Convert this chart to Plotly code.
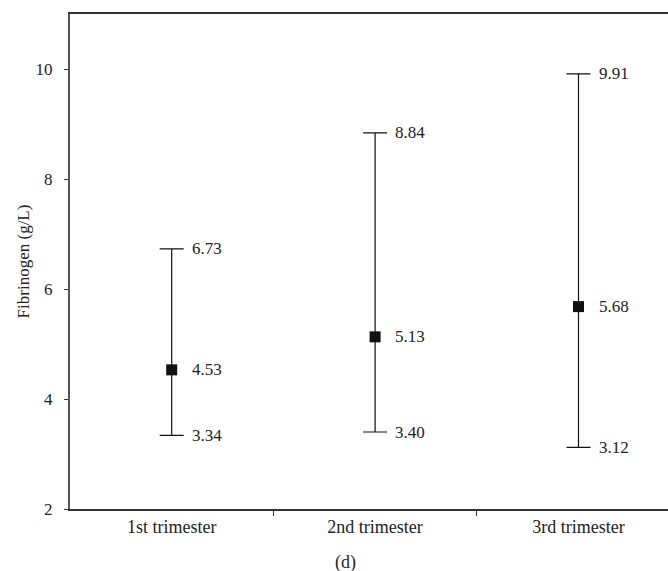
import plotly.graph_objects as go

categories = ["1st trimester", "2nd trimester", "3rd trimester"]
means = [4.53, 5.13, 5.68]
upper = [6.73, 8.84, 9.91]
lower = [3.34, 3.40, 3.12]
y_ticks = [2, 4, 6, 8, 10]
sep_ticks = [0.5, 1.5]

xpos = list(range(len(categories)))
font_family = "Liberation Serif, Times New Roman, serif"
txt_color = "#222222"

fig = go.Figure()
fig.add_trace(go.Scatter(
    x=xpos, y=means, mode="markers",
    marker=dict(symbol="square", size=11, color="#111111"),
    error_y=dict(type="data", symmetric=False,
                 array=[u - m for u, m in zip(upper, means)],
                 arrayminus=[m - l for m, l in zip(means, lower)],
                 color="#111111", thickness=1.2, width=12),
    showlegend=False,
))

for i in xpos:
    for v in (upper[i], means[i], lower[i]):
        fig.add_annotation(x=xpos[i], y=v, xref="x", yref="y", text=f"{v:.2f}",
                           showarrow=False, xanchor="left", yanchor="middle",
                           xshift=18, font=dict(family=font_family, size=17, color=txt_color))

fig.add_annotation(x=0.46, y=-0.108, xref="paper", yref="paper", text="(d)",
                   showarrow=False, xanchor="center", yanchor="middle",
                   font=dict(family=font_family, size=18, color=txt_color))

fig.update_layout(
    width=668, height=571,
    margin=dict(l=70, r=0, t=14, b=62),
    plot_bgcolor="white", paper_bgcolor="white",
    font=dict(family=font_family, size=17, color=txt_color),
    xaxis=dict(range=[-0.5, 2.44], tickvals=xpos, ticktext=categories,
               ticks="", showgrid=False, zeroline=False,
               showline=True, linecolor="#333333", linewidth=1.5, mirror=True,
               ticklabelstandoff=1,
               tickfont=dict(size=18),
               minor=dict(tickmode="array", tickvals=sep_ticks, ticks="outside", ticklen=5,
                          tickcolor="#333333", tickwidth=1, showgrid=False)),
    yaxis=dict(range=[2, 11], tickvals=y_ticks, ticks="outside", ticklen=4,
               tickcolor="#333333", showgrid=False, zeroline=False,
               showline=True, linecolor="#555555", linewidth=2,
               ticklabelstandoff=8,
               title=dict(text="Fibrinogen (g/L)", standoff=2,
                          font=dict(family=font_family, size=17, color=txt_color))),
)

fig.write_html("out.html")
